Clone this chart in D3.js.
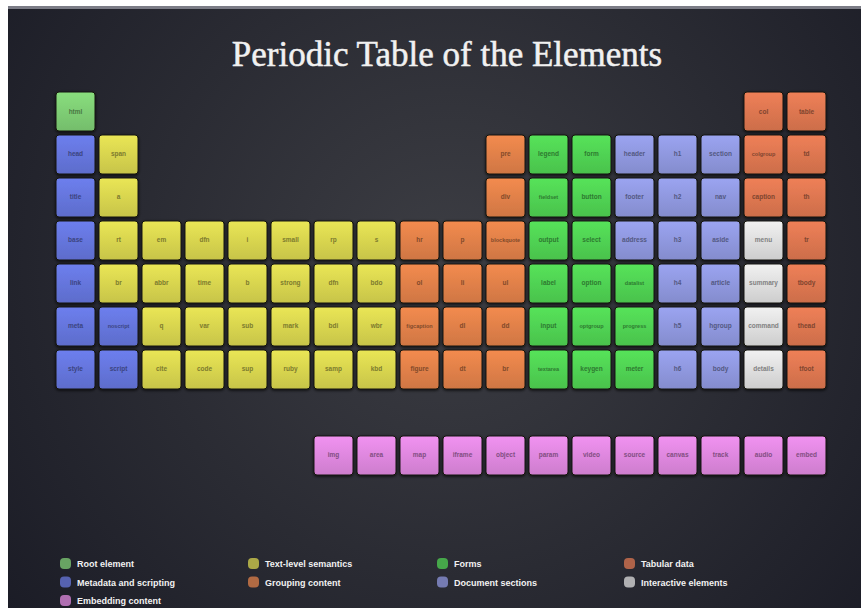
<!DOCTYPE html>
<html>
<head>
<meta charset="utf-8">
<script src="https://cdn.jsdelivr.net/npm/d3@7"></script>
<style>
  html, body { margin: 0; padding: 0; background: #ffffff; }
  svg { display: block; }
</style>
</head>
<body>
<svg width="861" height="608"></svg>
<script>
// legend groups, in the order they are listed at the bottom
var groups = ["Root element", "Metadata and scripting", "Embedding content",
              "Text-level semantics", "Grouping content",
              "Forms", "Document sections",
              "Tabular data", "Interactive elements"]
var groupColors = ["#7dcb73", "#6474da", "#dc86dc",
                   "#d6d24e", "#de7f48",
                   "#4fd052", "#8e96dc",
                   "#db7550", "#dcdcdc"]

// each element: [symbol, period (row), group column]
var rootEls = [["html", 1, 1]]
var metaEls = [["head", 2, 1], ["title", 3, 1], ["base", 4, 1], ["link", 5, 1], ["meta", 6, 1], ["style", 7, 1],
               ["noscript", 6, 2], ["script", 7, 2]]
var textEls = [["span", 2, 2], ["a", 3, 2], ["rt", 4, 2], ["br", 5, 2],
               ["em", 4, 3], ["abbr", 5, 3], ["q", 6, 3], ["cite", 7, 3],
               ["dfn", 4, 4], ["time", 5, 4], ["var", 6, 4], ["code", 7, 4],
               ["i", 4, 5], ["b", 5, 5], ["sub", 6, 5], ["sup", 7, 5],
               ["small", 4, 6], ["strong", 5, 6], ["mark", 6, 6], ["ruby", 7, 6],
               ["rp", 4, 7], ["dfn", 5, 7], ["bdi", 6, 7], ["samp", 7, 7],
               ["s", 4, 8], ["bdo", 5, 8], ["wbr", 6, 8], ["kbd", 7, 8]]
var groupingEls = [["hr", 4, 9], ["ol", 5, 9], ["figcaption", 6, 9], ["figure", 7, 9],
                   ["p", 4, 10], ["li", 5, 10], ["dl", 6, 10], ["dt", 7, 10],
                   ["pre", 2, 11], ["div", 3, 11], ["blockquote", 4, 11], ["ul", 5, 11], ["dd", 6, 11], ["br", 7, 11]]
var formEls = [["legend", 2, 12], ["fieldset", 3, 12], ["output", 4, 12], ["label", 5, 12], ["input", 6, 12], ["textarea", 7, 12],
               ["form", 2, 13], ["button", 3, 13], ["select", 4, 13], ["option", 5, 13], ["optgroup", 6, 13], ["keygen", 7, 13],
               ["datalist", 5, 14], ["progress", 6, 14], ["meter", 7, 14]]
var sectionEls = [["header", 2, 14], ["footer", 3, 14], ["address", 4, 14],
                  ["h1", 2, 15], ["h2", 3, 15], ["h3", 4, 15], ["h4", 5, 15], ["h5", 6, 15], ["h6", 7, 15],
                  ["section", 2, 16], ["nav", 3, 16], ["aside", 4, 16], ["article", 5, 16], ["hgroup", 6, 16], ["body", 7, 16]]
var tableEls = [["col", 1, 17], ["colgroup", 2, 17], ["caption", 3, 17],
                ["table", 1, 18], ["td", 2, 18], ["th", 3, 18], ["tr", 4, 18], ["tbody", 5, 18], ["thead", 6, 18], ["tfoot", 7, 18]]
var interactiveEls = [["menu", 4, 17], ["summary", 5, 17], ["command", 6, 17], ["details", 7, 17]]
var embedEls = [["img", 9, 7], ["area", 9, 8], ["map", 9, 9], ["iframe", 9, 10], ["object", 9, 11], ["param", 9, 12],
                ["video", 9, 13], ["source", 9, 14], ["canvas", 9, 15], ["track", 9, 16], ["audio", 9, 17], ["embed", 9, 18]]

var groupEls = {
  "Root element": rootEls, "Metadata and scripting": metaEls, "Embedding content": embedEls,
  "Text-level semantics": textEls, "Grouping content": groupingEls, "Forms": formEls,
  "Document sections": sectionEls, "Tabular data": tableEls, "Interactive elements": interactiveEls
}

var svg = d3.select("svg"),
	width = +svg.attr("width"),
	height = +svg.attr("height")

var color = d3.scaleOrdinal().domain(groups).range(groupColors)

var cells = []
groups.forEach(function(g) {
	groupEls[g].forEach(function(e) { cells.push({ name: e[0], row: e[1], col: e[2], group: g }) })
})

var x = d3.scaleBand().domain(d3.range(1, 19)).range([56, 826]).paddingInner(0.093)
var y = d3.scaleBand().domain(d3.range(1, 10)).range([92, 475]).paddingInner(0.093)

var defs = svg.append("defs")
var bg = defs.append("radialGradient").attr("id", "bg")
	.attr("gradientUnits", "userSpaceOnUse")
	.attr("cx", 450).attr("cy", 270).attr("r", 560)
bg.append("stop").attr("offset", 0).attr("stop-color", "#3d3e44")
bg.append("stop").attr("offset", 0.55).attr("stop-color", "#2a2b33")
bg.append("stop").attr("offset", 1).attr("stop-color", "#1b1c26")

groups.forEach(function(g, i) {
	var c = d3.color(color(g))
	var lg = defs.append("linearGradient").attr("id", "g" + i)
		.attr("x1", 0).attr("y1", 0).attr("x2", 0).attr("y2", 1)
	lg.append("stop").attr("offset", 0).attr("stop-color", c.brighter(0.25))
	lg.append("stop").attr("offset", 1).attr("stop-color", c.darker(0.2))
})

var shadow = defs.append("filter").attr("id", "shadow")
	.attr("x", -0.2).attr("y", -0.2).attr("width", 1.4).attr("height", 1.4)
shadow.append("feDropShadow").attr("dx", 0).attr("dy", 1).attr("stdDeviation", 1.6)
	.attr("flood-color", "#000").attr("flood-opacity", 0.8)

// page frame: white strip top/left, then the dark board
svg.append("rect").attr("width", width).attr("height", height).attr("fill", "#ffffff")
svg.append("rect").attr("x", 8).attr("y", 6).attr("width", width - 8).attr("height", height - 6).attr("fill", "url(#bg)")
svg.append("rect").attr("x", 8).attr("y", 6).attr("width", width - 8).attr("height", 3).attr("fill", "#7b7c86")

svg.append("text")
	.attr("x", 447).attr("y", 66)
	.attr("text-anchor", "middle")
	.style("font-family", "'Liberation Serif', 'DejaVu Serif', serif")
	.style("font-size", "35px")
	.style("fill", "#f1f1f1")
	.style("stroke", "#f1f1f1").style("stroke-width", 0.5)
	.text("Periodic Table of the Elements")

var cell = svg.append("g").selectAll("g").data(cells).enter().append("g")
	.attr("transform", function(d) { return "translate(" + x(d.col) + "," + y(d.row) + ")" })

cell.append("rect")
	.attr("width", x.bandwidth())
	.attr("height", y.bandwidth())
	.attr("rx", 3).attr("ry", 3)
	.attr("fill", function(d) { return "url(#g" + groups.indexOf(d.group) + ")" })
	.attr("stroke", "#14140f").attr("stroke-width", 1)
	.attr("filter", "url(#shadow)")

cell.append("text")
	.attr("x", x.bandwidth() / 2)
	.attr("y", y.bandwidth() / 2 + 2)
	.attr("text-anchor", "middle")
	.style("font-family", "'Liberation Sans', sans-serif")
	.style("font-weight", "bold")
	.style("font-size", function(d) { return d.name.length > 7 ? "5.5px" : "6.5px" })
	.style("fill", function(d) { return d3.color(color(d.group)).darker(1.5) })
	.text(function(d) { return d.name })

// legend, four columns
var legendCols = [[0, 1, 2], [3, 4], [5, 6], [7, 8]]
var legendX = [60, 248, 437, 624]
var legendItems = []
legendCols.forEach(function(idx, c) {
	idx.forEach(function(gi, r) { legendItems.push({ group: groups[gi], col: c, row: r }) })
})

var legend = svg.append("g").selectAll("g").data(legendItems).enter().append("g")
	.attr("transform", function(d) { return "translate(" + legendX[d.col] + "," + (558 + d.row * 18.5) + ")" })

legend.append("rect")
	.attr("width", 11).attr("height", 11).attr("rx", 4)
	.attr("fill", function(d) { return d3.interpolateRgb(color(d.group), "#2a2b33")(0.25) })

legend.append("text")
	.attr("x", 17).attr("y", 9)
	.style("font-family", "'Liberation Sans', sans-serif")
	.style("font-weight", "bold")
	.style("font-size", "9px")
	.style("fill", "#f2f2f2")
	.text(function(d) { return d.group })
</script>
</body>
</html>
